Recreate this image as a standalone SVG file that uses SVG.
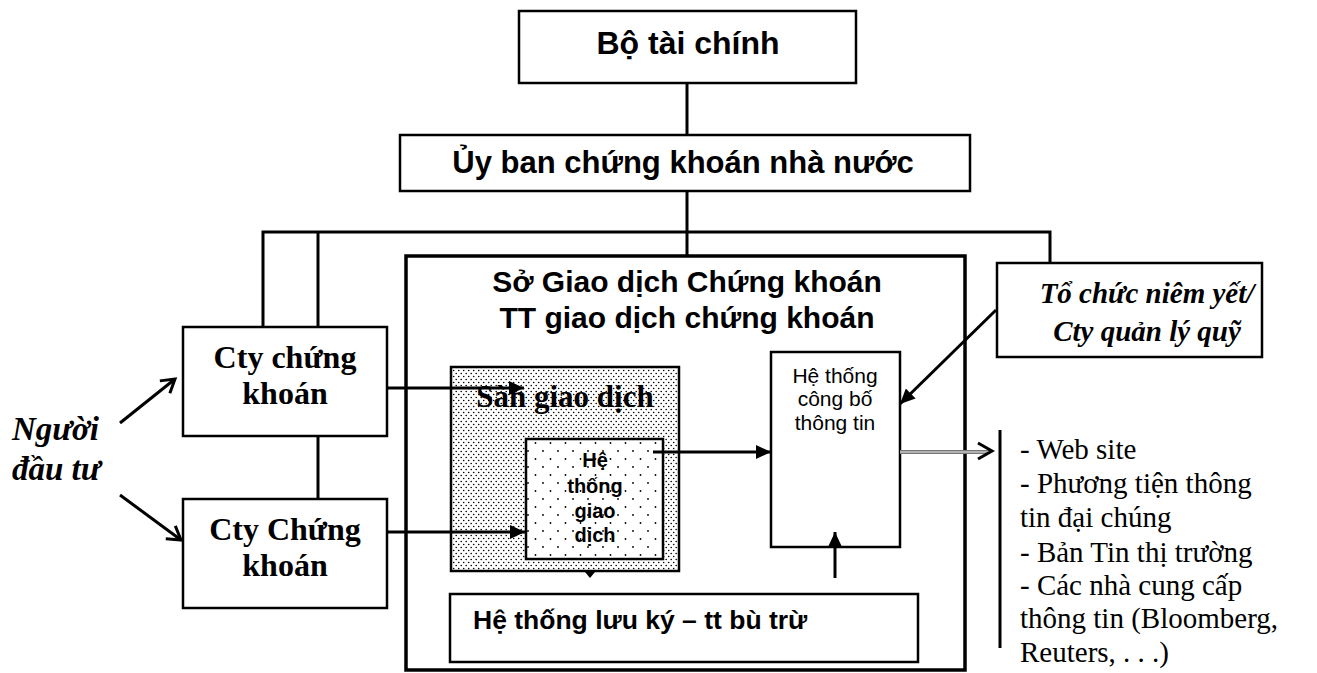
<svg xmlns="http://www.w3.org/2000/svg" width="1317" height="673" viewBox="0 0 1317 673">
<style>
.box{fill:#fff;stroke:#000;stroke-width:2.5}
.ln{fill:none;stroke:#000;stroke-width:3}
.ar{font-family:"Liberation Sans",Arial,sans-serif;fill:#000}
.b{font-weight:bold}
.tm{font-family:"Liberation Serif","Times New Roman",serif;fill:#000}
.bi{font-weight:bold;font-style:italic}
.c{text-anchor:middle}
</style>
<defs>
<pattern id="dense" width="5" height="6" patternUnits="userSpaceOnUse">
<rect width="5" height="6" fill="#fff"/>
<circle cx="1.2" cy="1.5" r="0.8" fill="#000"/>
<circle cx="3.7" cy="4.5" r="0.8" fill="#000"/>
</pattern>
<pattern id="sparse" width="15" height="16" patternUnits="userSpaceOnUse">
<rect width="15" height="16" fill="#fff"/>
<circle cx="3" cy="3" r="0.9" fill="#000"/>
<circle cx="10.5" cy="11" r="0.9" fill="#000"/>
</pattern>
<marker id="tri" markerUnits="userSpaceOnUse" markerWidth="16" markerHeight="14" refX="15" refY="7" orient="auto">
<path d="M0,0 L15,7 L0,14 z" fill="#000"/>
</marker>
<marker id="open" markerUnits="userSpaceOnUse" markerWidth="20" markerHeight="20" refX="16" refY="10" orient="auto">
<path d="M3,2 L16,10 L3,18" fill="none" stroke="#000" stroke-width="3"/>
</marker>
</defs>

<g id="bo-tai-chinh">
<rect class="box" x="519" y="11" width="337" height="72"/>
<text class="ar b c" x="688" y="54" font-size="32">Bộ tài chính</text>
</g>

<g id="uy-ban">
<rect class="box" x="400" y="135" width="570" height="56"/>
<text class="ar b c" x="683" y="173" font-size="31">Ủy ban chứng khoán nhà nước</text>
</g>

<g id="so-giao-dich">
<rect x="406" y="256" width="559" height="414" fill="#fff" stroke="#000" stroke-width="3.5"/>
<text class="ar b c" x="687" y="292" font-size="30">Sở Giao dịch Chứng khoán</text>
<text class="ar b c" x="687" y="328" font-size="30">TT giao dịch chứng khoán</text>
</g>

<g id="to-chuc">
<rect class="box" x="997" y="263" width="265" height="94"/>
<text class="tm bi c" x="1147" y="303" font-size="29">Tổ chức niêm yết/</text>
<text class="tm bi c" x="1147" y="341" font-size="29">Cty quản lý quỹ</text>
</g>

<g id="cty1">
<rect class="box" x="183" y="327" width="204" height="109"/>
<text class="tm b c" x="285" y="368" font-size="32">Cty chứng</text>
<text class="tm b c" x="285" y="404" font-size="32">khoán</text>
</g>

<g id="cty2">
<rect class="box" x="183" y="499" width="204" height="109"/>
<text class="tm b c" x="285" y="540" font-size="32">Cty Chứng</text>
<text class="tm b c" x="285" y="576" font-size="32">khoán</text>
</g>

<g id="nguoi-dau-tu">
<text class="tm bi" x="12" y="440" font-size="33">Người</text>
<text class="tm bi" x="12" y="480" font-size="33">đầu tư</text>
</g>

<g id="san-giao-dich">
<rect x="451" y="367" width="228" height="204" fill="url(#dense)" stroke="#000" stroke-width="2.5"/>
<text class="tm b c" x="565" y="407" font-size="31">Sàn giao dịch</text>
</g>

<g id="he-thong-giao-dich">
<rect x="526" y="439" width="137" height="120" fill="url(#sparse)" stroke="#000" stroke-width="2.5"/>
<text class="ar b c" x="595" y="467" font-size="20">Hệ</text>
<text class="ar b c" x="595" y="493" font-size="20">thống</text>
<text class="ar b c" x="595" y="518" font-size="20">giao</text>
<text class="ar b c" x="595" y="542" font-size="20">dịch</text>
</g>

<g id="he-thong-cong-bo">
<rect class="box" x="771" y="352" width="129" height="195" stroke-width="2"/>
<text class="ar c" x="835" y="383" font-size="21">Hệ thống</text>
<text class="ar c" x="835" y="406" font-size="21">công bố</text>
<text class="ar c" x="835" y="430" font-size="21">thông tin</text>
</g>

<g id="luu-ky">
<rect class="box" x="450" y="594" width="468" height="68" stroke-width="2"/>
<text class="ar b" x="473" y="629" font-size="26.5">Hệ thống lưu ký – tt bù trừ</text>
</g>

<g id="kenh-cong-bo">
<line x1="1000" y1="430" x2="1000" y2="648" stroke="#000" stroke-width="3"/>
<text class="tm" font-size="29">
<tspan x="1020" y="459">- Web site</tspan>
<tspan x="1020" y="493">- Phương tiện thông</tspan>
<tspan x="1020" y="527">tin đại chúng</tspan>
<tspan x="1020" y="562">- Bản Tin thị trường</tspan>
<tspan x="1020" y="595">- Các nhà cung cấp</tspan>
<tspan x="1020" y="628">thông tin (Bloomberg,</tspan>
<tspan x="1020" y="662">Reuters, . . .)</tspan>
</text>
</g>

<g id="connectors">
<line class="ln" x1="687" y1="83" x2="687" y2="135"/>
<line class="ln" x1="687" y1="191" x2="687" y2="256"/>
<polyline class="ln" points="263,327 263,232 1050,232 1050,263"/>
<line class="ln" x1="318" y1="232" x2="318" y2="327"/>
<line class="ln" x1="318" y1="436" x2="318" y2="499"/>
<line class="ln" x1="120" y1="423" x2="175" y2="379" marker-end="url(#open)"/>
<line class="ln" x1="120" y1="495" x2="181" y2="540" marker-end="url(#open)"/>
<line class="ln" x1="387" y1="388" x2="524" y2="388" marker-end="url(#tri)"/>
<line class="ln" x1="387" y1="532" x2="525" y2="532" marker-end="url(#tri)"/>
<line class="ln" x1="653" y1="452" x2="771" y2="452" marker-end="url(#tri)"/>
<line class="ln" x1="835" y1="578" x2="835" y2="532" marker-end="url(#tri)"/>
<line class="ln" x1="996" y1="310" x2="900" y2="404" marker-end="url(#tri)"/>
<path d="M585,572 L595,572 L590,578 z" fill="#000"/>
<line x1="900" y1="452" x2="990" y2="452" stroke="#777" stroke-width="4"/>
<line x1="900" y1="452" x2="990" y2="452" stroke="#eee" stroke-width="1"/>
<polyline points="978,443 992,451 978,459" fill="none" stroke="#000" stroke-width="3"/>
</g>
</svg>
